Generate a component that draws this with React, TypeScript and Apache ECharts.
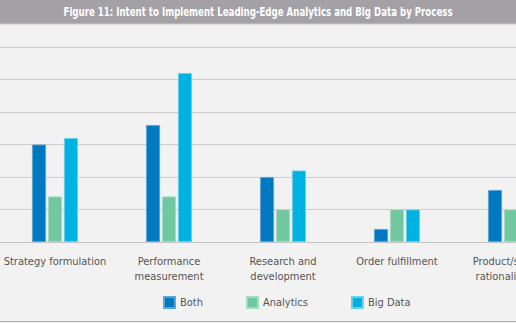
import React, { useEffect, useRef } from "react";
import * as echarts from "echarts";

const categories = [
  "Strategy formulation",
  "Performance\nmeasurement",
  "Research and\ndevelopment",
  "Order fulfillment",
  "Product/service\nrationalization",
];
const both = [15, 18, 10, 2, 8];
const analytics = [7, 7, 5, 5, 5];
const bigData = [16, 26, 11, 5, 9];
const seriesNames = ["Both", "Analytics", "Big Data"];
const titleText = "Figure 11: Intent to Implement Leading-Edge Analytics and Big Data by Process";

const FONT = "'DejaVu Sans Condensed', 'DejaVu Sans', sans-serif";

export default function App() {
  const ref = useRef<HTMLDivElement>(null);
  useEffect(() => {
    document.body.style.margin = "0";
    document.body.style.overflow = "hidden";
    const chart = echarts.init(ref.current!, undefined, { renderer: "svg" });
    const colors = ["#0079c1", "#71c7a0", "#00b2e2"];
    const borders = ["#5aa6d6", "#a3dcc2", "#6dd0ee"];
    const data = [both, analytics, bigData];
    chart.setOption({
      animation: false,
      backgroundColor: "#f2f2f2",
      textStyle: { fontFamily: FONT },
      grid: { left: -2, width: 570, top: 47, height: 195, containLabel: false, outerBoundsMode: "none" },
      xAxis: {
        type: "category",
        data: categories,
        axisTick: { show: false },
        axisLine: { lineStyle: { color: "#c4c4c4", width: 1 } },
        axisLabel: {
          color: "#555",
          fontSize: 11,
          fontFamily: FONT,
          margin: 12,
          lineHeight: 15,
          interval: 0,
          hideOverlap: false,
        },
      },
      yAxis: {
        type: "value",
        min: 0,
        max: 30,
        interval: 5,
        axisLabel: { show: false },
        axisLine: { show: false },
        axisTick: { show: false },
        splitLine: { lineStyle: { color: "#cdcdcd", width: 1 } },
      },
      legend: {
        left: 158,
        top: 291,
        itemWidth: 11,
        itemHeight: 11,
        itemGap: 43,
        icon: "rect",
        textStyle: { color: "#555", fontSize: 11, fontFamily: FONT },
        data: seriesNames,
      },
      series: seriesNames.map((name, i) => ({
        name,
        type: "bar",
        data: data[i],
        barWidth: 14,
        barGap: "14%",
        itemStyle: { color: colors[i], borderColor: borders[i], borderWidth: 0.8 },
      })),
      graphic: [
        { type: "rect", shape: { x: 0, y: 0, width: 516, height: 24 }, style: { fill: "#a3a1a5" } },
        { type: "line", shape: { x1: 0, y1: 24, x2: 516, y2: 24 }, style: { stroke: "#c9c8ca", lineWidth: 1 } },
        {
          type: "text",
          x: 258,
          y: 12.5,
          scaleX: 0.8,
          style: {
            text: titleText,
            fill: "#ffffff",
            font: `bold 12px ${FONT}`,
            align: "center",
            verticalAlign: "middle",
          },
        },
        { type: "line", shape: { x1: 0, y1: 321.5, x2: 516, y2: 321.5 }, style: { stroke: "#b0b0b0", lineWidth: 1 } },
      ],
    });
    return () => chart.dispose();
  }, []);
  return <div ref={ref} style={{ width: 516, height: 323 }} />;
}
